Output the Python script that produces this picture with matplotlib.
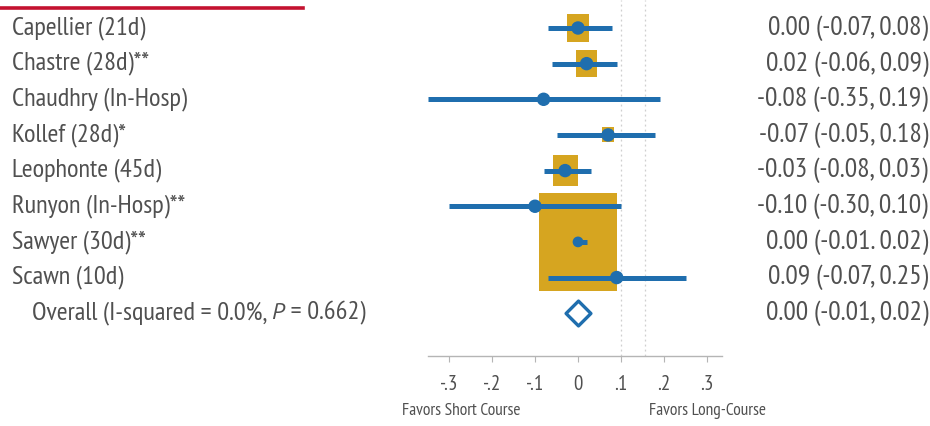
import matplotlib
matplotlib.use("Agg")
import matplotlib.pyplot as plt
from matplotlib.patches import Rectangle

# ---- data -------------------------------------------------------------
studies = [
    "Capellier (21d)",
    "Chastre (28d)**",
    "Chaudhry (In-Hosp)",
    "Kollef (28d)*",
    "Leophonte (45d)",
    "Runyon (In-Hosp)**",
    "Sawyer (30d)**",
    "Scawn (10d)",
]
estimates = [0.00, 0.02, -0.08, 0.07, -0.03, -0.10, 0.00, 0.09]
ci_low = [-0.07, -0.06, -0.35, -0.05, -0.08, -0.30, -0.01, -0.07]
ci_high = [0.08, 0.09, 0.19, 0.18, 0.03, 0.10, 0.02, 0.25]
weights = [6.1, 5.6, 0.5, 1.8, 7.9, 0.8, 76.6, 0.8]  # percent
effect_labels = [
    "0.00 (-0.07, 0.08)",
    "0.02 (-0.06, 0.09)",
    "-0.08 (-0.35, 0.19)",
    "-0.07 (-0.05, 0.18)",
    "-0.03 (-0.08, 0.03)",
    "-0.10 (-0.30, 0.10)",
    "0.00 (-0.01. 0.02)",
    "0.09 (-0.07, 0.25)",
]
overall_parts = [("Overall (I-squared = 0.0%, ", "normal"), ("P", "italic"), (" = 0.662)", "normal")]
overall_est = 0.00
overall_low = -0.01
overall_high = 0.02
overall_text = "0.00 (-0.01, 0.02)"
tick_values = [-0.3, -0.2, -0.1, 0.0, 0.1, 0.2, 0.3]
tick_labels = ["-.3", "-.2", "-.1", "0", ".1", ".2", ".3"]
ref_lines = [0.1, 0.155]

# ---- style ------------------------------------------------------------
FAMILY = ["PT Sans Narrow", "Liberation Sans Narrow", "DejaVu Sans"]
ITALIC_FAMILY = ["PT Sans", "DejaVu Sans"]
plt.rcParams["font.family"] = FAMILY
BLUE = "#1f6eae"
GOLD = "#d6a520"
TEXT = "#505050"
FS = 19
FS_RIGHT = 20

W, H = 930, 426
fig = plt.figure(figsize=(W / 100, H / 100), dpi=100)

# forest panel: 0 -> 578 px, 0.1 per 43 px, axis line at y=356 px
x0_px, scale = 578.0, 430.0
xlim = (-0.35, 0.335)
left_px = x0_px + xlim[0] * scale
right_px = x0_px + xlim[1] * scale
row0_px, row_step = 28.0, 35.65
axis_px = 356.0
ylim = ((axis_px - row0_px) / row_step, -row0_px / row_step)

ax = fig.add_axes([left_px / W, (H - axis_px) / H, (right_px - left_px) / W, axis_px / H])
ax.set_xlim(*xlim)
ax.set_ylim(*ylim)
for s in ("top", "right", "left"):
    ax.spines[s].set_visible(False)
ax.spines["bottom"].set_color("#b5b5b5")
ax.spines["bottom"].set_linewidth(1.0)
ax.set_yticks([])
ax.set_xticks(tick_values)
ax.set_xticklabels(tick_labels)
ax.tick_params(axis="x", colors="#b5b5b5", length=4, width=0.8, pad=10,
               labelsize=15, labelcolor=TEXT)

for xv in ref_lines:
    ax.axvline(xv, color="#cfcfcf", lw=0.9, ls=(0, (1.5, 2.5)), zorder=1)

n = len(studies)
rows = list(range(n))

# weight boxes (area proportional to weight)
px_per_root = 8.9
for r, est, w in zip(rows, estimates, weights):
    side = px_per_root * w ** 0.5
    bw = side / scale
    bh = side * 1.25 / row_step
    ax.add_patch(Rectangle((est - bw / 2, r - bh / 2), bw, bh,
                           facecolor=GOLD, edgecolor="none", zorder=2))

# confidence intervals and point estimates
for r, est, lo, hi in zip(rows, estimates, ci_low, ci_high):
    ax.plot([lo, hi], [r, r], color=BLUE, lw=3.6, solid_capstyle="butt",
            zorder=3, clip_on=False)
ax.scatter(estimates, rows, s=[75 if w < 50 else 45 for w in weights],
           color=BLUE, zorder=4, clip_on=False)

# pooled estimate diamond
ax.scatter([overall_est], [n], marker="D", s=160, facecolor="white",
           edgecolor=BLUE, linewidth=2.4, zorder=4)

# ---- text columns ------------------------------------------------------
def ypx(r):
    return 1 - (row0_px + r * row_step) / H

for r, name in zip(rows, studies):
    fig.text(12 / W, ypx(r), name, ha="left", va="center", fontsize=FS, color=TEXT)

# overall label assembled piece by piece so that P can be italic
renderer = fig.canvas.get_renderer()
x_cursor = 32.0
for piece, style in overall_parts:
    kw = dict(fontstyle="italic", family=ITALIC_FAMILY, fontsize=FS - 2) if style == "italic" else dict(fontsize=FS)
    t = fig.text(x_cursor / W, ypx(n), piece, ha="left", va="center", color=TEXT, **kw)
    x_cursor = t.get_window_extent(renderer).x1 + (1.5 if style == "italic" else 0)

for r, lab in zip(rows, effect_labels):
    fig.text(928 / W, ypx(r), lab, ha="right", va="center", fontsize=FS_RIGHT, color=TEXT)
fig.text(928 / W, ypx(n), overall_text, ha="right", va="center", fontsize=FS_RIGHT, color=TEXT)

fig.text(461 / W, 1 - 411 / H, "Favors Short Course", ha="center", va="center",
         fontsize=12.5, color=TEXT)
fig.text(707 / W, 1 - 411 / H, "Favors Long-Course", ha="center", va="center",
         fontsize=12.5, color=TEXT)

# header rule
fig.add_artist(plt.Line2D([0, 303 / W], [1 - 8 / H, 1 - 8 / H], color="#c41230",
                          lw=2.6, transform=fig.transFigure))

fig.savefig("out.png", dpi=100, facecolor="white")
